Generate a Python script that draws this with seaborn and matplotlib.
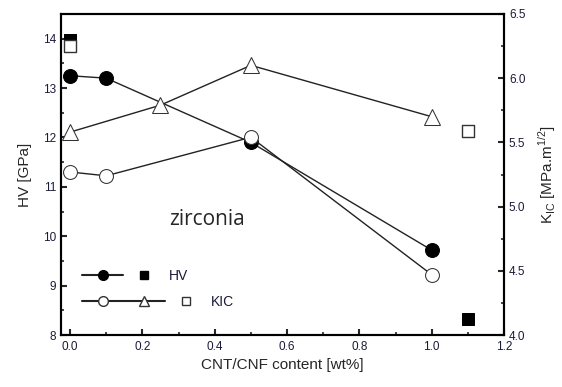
import matplotlib
matplotlib.use("Agg")
import matplotlib.pyplot as plt
import seaborn as sns
import numpy as np
from matplotlib.lines import Line2D
from matplotlib.legend_handler import HandlerTuple
from matplotlib.ticker import MultipleLocator, FormatStrFormatter

# Data
hv_x = [0.0, 0.1, 0.5, 1.0]
hv_y = [13.25, 13.2, 11.9, 9.72]
hv_sq_x = [0.0, 1.1]
hv_sq_y = [13.97, 8.32]

kic_circ_x = [0.0, 0.1, 0.5, 1.0]
kic_circ_y = [5.27, 5.24, 5.54, 4.47]
kic_tri_x = [0.0, 0.25, 0.5, 1.0]
kic_tri_y = [5.58, 5.79, 6.10, 5.70]
kic_sq_x = [0.0, 1.1]
kic_sq_y = [6.25, 5.59]

sns.set_style("ticks")
plt.rcParams['font.family'] = ['Liberation Sans', 'DejaVu Sans']

fig = plt.figure(figsize=(5.62, 3.87), dpi=100)
ax = fig.add_axes([0.1085, 0.134, 0.7885, 0.830])
ax2 = ax.twinx()

lc = '#222222'
# HV (left axis)
sns.lineplot(x=hv_x, y=hv_y, ax=ax, color=lc, lw=1.0, marker='o', markersize=10,
             markerfacecolor='black', markeredgecolor='black')
sns.scatterplot(x=hv_sq_x, y=hv_sq_y, ax=ax, marker='s', s=80, color='black',
                edgecolor='black', zorder=3)

# KIC (right axis)
sns.lineplot(x=kic_circ_x, y=kic_circ_y, ax=ax2, color=lc, lw=1.0, marker='o', markersize=10,
             markerfacecolor='white', markeredgecolor='#333333')
sns.lineplot(x=kic_tri_x, y=kic_tri_y, ax=ax2, color=lc, lw=1.0, marker='^', markersize=11,
             markerfacecolor='white', markeredgecolor='#333333')
sns.scatterplot(x=kic_sq_x, y=kic_sq_y, ax=ax2, marker='s', s=80, facecolor='white',
                edgecolor='#333333', linewidth=1.0, zorder=2)

ax.set_xlim(-0.025, 1.2)
ax.set_ylim(8, 14.5)
ax2.set_ylim(4.0, 6.5)

tick_color = '#1a1a3a'
ax.xaxis.set_major_locator(MultipleLocator(0.2))
ax.xaxis.set_minor_locator(MultipleLocator(0.1))
ax.xaxis.set_major_formatter(FormatStrFormatter('%.1f'))
ax.yaxis.set_major_locator(MultipleLocator(1))
ax.yaxis.set_minor_locator(MultipleLocator(0.5))
ax2.yaxis.set_major_locator(MultipleLocator(0.5))
ax2.yaxis.set_minor_locator(MultipleLocator(0.25))
ax2.yaxis.set_major_formatter(FormatStrFormatter('%.1f'))

for a in (ax, ax2):
    a.tick_params(which='major', direction='in', length=4, width=1.5, labelsize=8.5,
                  labelcolor=tick_color)
    a.tick_params(which='minor', direction='in', length=2, width=1.2)
    for s in a.spines.values():
        s.set_linewidth(1.5)
        s.set_color('black')
        s.set_visible(True)
ax.tick_params(axis='x', pad=4)
ax.tick_params(axis='y', which='both', right=False)
ax2.tick_params(axis='y', which='both', left=False, right=True)

ax.set_xlabel('CNT/CNF content [wt%]', fontsize=11)
ax.set_ylabel('HV [GPa]', fontsize=11, labelpad=8)
ax2.set_ylabel('K$_{\\mathregular{IC}}$ [MPa.m$^{\\mathregular{1/2}}$]', fontsize=11, labelpad=8)

ax.text(0.33, 0.36, 'zirconia', transform=ax.transAxes, fontsize=15,
        family=['Open Sans', 'DejaVu Sans'], ha='center', va='center')

# Legend
h_hv_c = Line2D([], [], color=lc, lw=1.5, marker='o', markersize=7,
                markerfacecolor='black', markeredgecolor='black')
h_hv_s = Line2D([], [], ls='', marker='s', markersize=6, markerfacecolor='black',
                markeredgecolor='black')
h_k_c = Line2D([], [], color=lc, lw=1.5, marker='o', markersize=7,
               markerfacecolor='white', markeredgecolor='#333333')
h_k_t = Line2D([], [], color=lc, lw=1.5, marker='^', markersize=7,
               markerfacecolor='white', markeredgecolor='#333333')
h_k_s = Line2D([], [], ls='', marker='s', markersize=6, markerfacecolor='white',
               markeredgecolor='#333333')

leg1 = ax.legend([(h_hv_c, h_hv_s)], ['HV'],
                 handler_map={tuple: HandlerTuple(ndivide=2, pad=0)},
                 loc='center left', bbox_to_anchor=(0.047, 0.184), frameon=False,
                 handlelength=6.0, fontsize=10, handletextpad=0.3,
                 borderpad=0, borderaxespad=0)
for t in leg1.get_texts():
    t.set_color(tick_color)
ax.add_artist(leg1)
leg2 = ax.legend([(h_k_c, h_k_t, h_k_s)], ['KIC'],
                 handler_map={tuple: HandlerTuple(ndivide=3, pad=0)},
                 loc='center left', bbox_to_anchor=(0.047, 0.103), frameon=False,
                 handlelength=9.0, fontsize=10, handletextpad=0.3,
                 borderpad=0, borderaxespad=0)
for t in leg2.get_texts():
    t.set_color(tick_color)

fig.savefig('out.png', dpi=100)
